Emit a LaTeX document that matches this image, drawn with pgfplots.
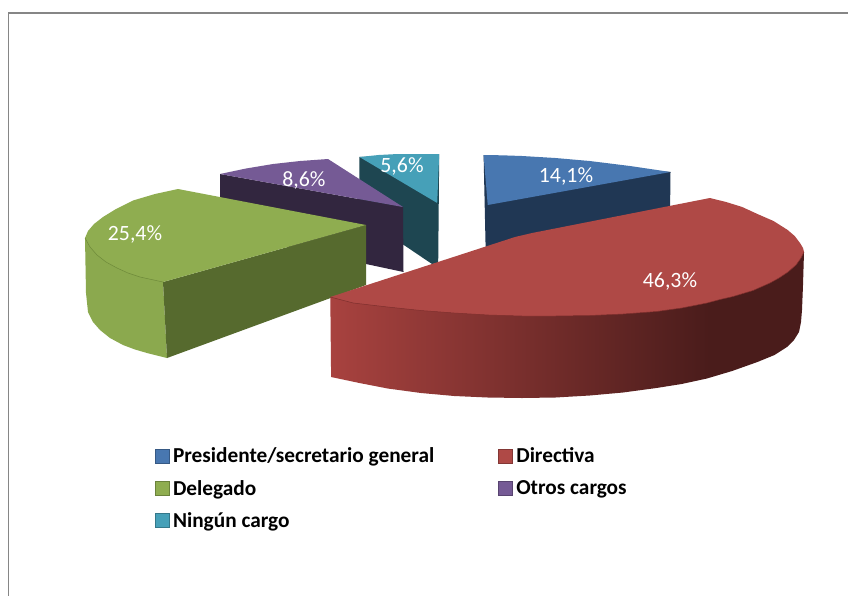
\documentclass[border=0pt]{standalone}
\usepackage{fontspec}
\setmainfont{Carlito}
\usepackage{pgfplots}
\pgfplotsset{compat=1.18}
\definecolor{blueT}{HTML}{4877B0}\definecolor{blueD}{HTML}{203754}
\definecolor{redT}{HTML}{AF4946}\definecolor{redL}{HTML}{A8423F}\definecolor{redD}{HTML}{4A1C1B}\definecolor{redE}{HTML}{7E2F2D}
\definecolor{greenT}{HTML}{8FAD50}\definecolor{greenS}{HTML}{8BA94E}\definecolor{greenD}{HTML}{566A2E}\definecolor{greenE}{HTML}{6E8A3A}
\definecolor{purT}{HTML}{755A95}\definecolor{purD}{HTML}{32263F}
\definecolor{tealT}{HTML}{46A0B8}\definecolor{tealD}{HTML}{1E4651}
\definecolor{frameC}{HTML}{868686}
\pgfdeclarehorizontalshading{redside}{100bp}{color(0bp)=(redL); color(25bp)=(redL); color(65bp)=(redD); color(100bp)=(redD)}
\tikzset{lab/.style={text=white,font=\fontsize{21.8}{24}\selectfont,inner sep=0pt,anchor=center}}
\begin{document}
\begin{tikzpicture}
\begin{axis}[
  scale only axis,width=848pt,height=595pt,
  xmin=0,xmax=848,ymin=0,ymax=595,y dir=reverse,
  hide axis,clip=true,
  legend columns=2,
  legend cell align=left,
  legend style={draw=none,fill=none,at={(axis cs:155,446)},anchor=north west,inner sep=0pt,outer sep=0pt,
    font=\fontsize{21.3}{24}\selectfont\bfseries,
    row sep=11.6pt,
    /tikz/every even column/.append style={column sep=62pt},
    /tikz/every odd column/.append style={column sep=1pt}},
  legend image code/.code={\path[#1] (0pt,-7pt) rectangle (14pt,7pt);},
]
% frame
\addplot[forget plot,draw=none,fill=white] coordinates {(0,0)(848,0)(848,595)(0,595)} --cycle;
\addplot[forget plot,frameC,line width=1.6pt] coordinates {(8.5,596)(8.5,13)(849,13)};
% Ningun cargo (back)
\addplot[forget plot,fill=tealD,draw=none] coordinates {(359.4,157)(439.2,154)(438.2,263)(432,264)(359.4,215)} --cycle;
\addplot[forget plot,fill=tealT,draw=none] coordinates {(359.4,157)(378.6,155)(397.8,154)(419,154)(439.2,154)(437.2,203)} --cycle;
% Otros cargos
\addplot[forget plot,fill=purD,draw=none] coordinates {(220,174)(403,207)(403.5,272)(366,264)(220,232)} --cycle;
\addplot[forget plot,fill=purT,draw=none] coordinates {(220,174)(246,168.5)(273,164)(300,161)(328,159)(403,207)} --cycle;
% Delegado
\addplot[forget plot,fill=greenS,draw=none] coordinates {(85,238)(86,293)(88,312)(93,322)(100,330)(110,338)(123,345)(135,349.5)(147,353)(167,358)(163,282)(120,250)} --cycle;
\addplot[forget plot,fill=greenD,draw=none] coordinates {(163,282)(366,225)(366,285)(167,358)} --cycle;
\addplot[forget plot,fill=greenT,draw=none] coordinates {(178,189)(155,194)(133,200.5)(116,209)(103,217)(94,224)(88,231)(85,238)(90,247)(97,255)(106,262)(117,268)(128,273)(140,277)(163,282)(366,225)} --cycle;
\addplot[forget plot,greenE,line width=0.5pt] coordinates {(85,238)(90,247)(97,255)(106,262)(117,268)(128,273)(140,277)(163,282)};
% Presidente
\addplot[forget plot,fill=blueD,draw=none] coordinates {(483.6,155)(670.5,172)(669.5,260)(485.6,247)} --cycle;
\addplot[forget plot,fill=blueT,draw=none] coordinates {(483.6,155)(501.8,155.3)(522,156)(555.4,158)(589.7,161)(630,166)(670.5,172)(487.7,205)} --cycle;
% Directiva
\addplot[forget plot,shading=redside,shading angle=0,draw=none] coordinates {(330.3,297)(331.1,377)(359.4,383)(387.7,388.5)(421,393)(454.3,396)(487.7,397.5)(522,398)(555.4,397.5)(589.7,395.5)(623,392.5)(656.4,388)(681.6,384)(706.9,378.5)(732.1,371)(757.4,362)(774.5,355)(787,347)(794,340)(799,332)(801,322)(802,310)(803,285)(804,252)(547,290)} --cycle;
\addplot[forget plot,fill=redT,draw=none] coordinates {(330.3,297)(515,237)(532.1,233)(709.9,198)(726.1,202)(742.2,207)(757.4,214)(773.5,221)(787.7,230)(794.7,236)(800,243)(803,248)(804,252)(801,258)(796,265)(788,272)(779,278)(770,283)(753,290.5)(733,296.5)(720,299.5)(706.9,303)(681.6,308)(656.4,311.5)(623,314)(589.7,315.5)(555.4,316)(522,316)(488.7,315)(454.3,313)(421,310.5)(387.7,307)(353.3,303)} --cycle;
\addplot[forget plot,redE,line width=0.5pt] coordinates {(330.3,297)(353.3,303)(387.7,307)(421,310.5)(454.3,313)(488.7,315)(522,316)(555.4,316)(589.7,315.5)(623,314)(656.4,311.5)(681.6,308)(706.9,303)(720,299.5)(733,296.5)(753,290.5)(770,283)(779,278)(788,272)(796,265)(801,258)(804,252)};
% labels
\node[lab] at (axis cs:566,176) {14,1\%};
\node[lab] at (axis cs:670,281) {46,3\%};
\node[lab] at (axis cs:135,234) {25,4\%};
\node[lab] at (axis cs:304,180) {8,6\%};
\node[lab] at (axis cs:402,166) {5,6\%};
% legend
\addlegendimage{fill=blueT,draw=blueT!75!black,line width=1pt}
\addlegendentry{Presidente/secretario general}
\addlegendimage{fill=redT,draw=redT!75!black,line width=1pt}
\addlegendentry{Directiva}
\addlegendimage{fill=greenT,draw=greenT!75!black,line width=1pt}
\addlegendentry{Delegado}
\addlegendimage{fill=purT,draw=purT!75!black,line width=1pt}
\addlegendentry{Otros cargos}
\addlegendimage{fill=tealT,draw=tealT!75!black,line width=1pt}
\addlegendentry{Ningún cargo}
\end{axis}
\end{tikzpicture}
\end{document}
